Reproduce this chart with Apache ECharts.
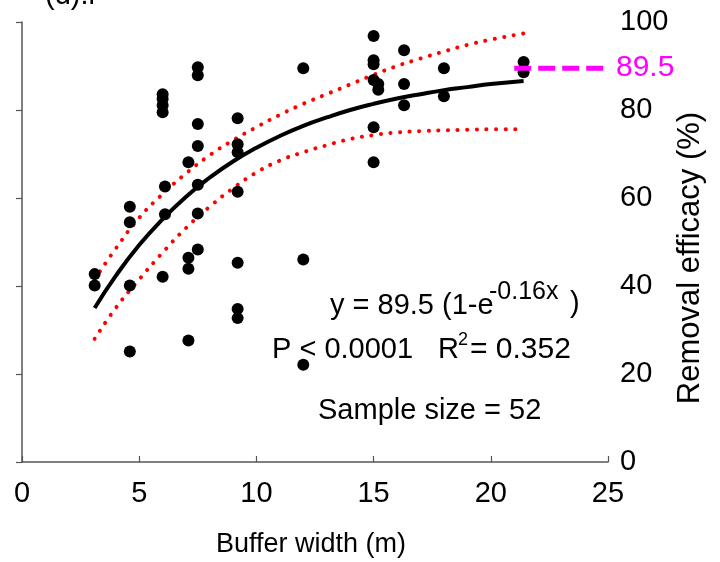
<!DOCTYPE html>
<html><head><meta charset="utf-8">
<script src="https://cdn.jsdelivr.net/npm/echarts@6/dist/echarts.min.js"></script>
<style>html,body{margin:0;padding:0;background:#fff}#c{width:720px;height:562px}</style>
</head><body><div id="c"></div>
<script>
const FONT = '"Liberation Sans",Arial,sans-serif';

// observed data points: buffer width (m) and removal efficacy (%)
const ptX = [3.1, 3.1,
  4.6, 4.6, 4.6, 4.6,
  6.0, 6.0, 6.0, 6.0, 6.0, 6.1, 6.1,
  7.1, 7.1, 7.1, 7.1,
  7.5, 7.5, 7.5, 7.5, 7.5, 7.5, 7.5,
  9.2, 9.2, 9.2, 9.2, 9.2, 9.2, 9.2,
  12.0, 12.0, 12.0,
  15.0, 15.0, 15.0, 15.0, 15.2, 15.2, 15.0, 15.0,
  16.3, 16.3, 16.3,
  18.0, 18.0,
  21.4, 21.4];
const ptY = [42.7, 40.1,
  58.0, 54.5, 40.1, 25.1,
  83.6, 82.5, 81.1, 79.5, 42.1, 62.6, 56.3,
  68.1, 46.4, 43.9, 27.6,
  89.7, 87.9, 76.8, 71.8, 63.0, 56.5, 48.3,
  78.1, 72.2, 70.4, 61.4, 45.3, 34.8, 32.7,
  89.5, 46.0, 22.1,
  96.8, 91.3, 90.4, 86.8, 85.9, 84.6, 76.1, 68.1,
  93.6, 85.9, 81.1,
  89.5, 83.1,
  90.9, 88.6];

// fitted curve values
const fitX = [3.1, 4, 5, 6, 7, 8, 9, 10, 11, 12, 13, 14, 15, 16, 17, 18, 19, 20, 21.4];
const fitY = [35.0, 42.3, 49.3, 55.2, 60.3, 64.6, 68.3, 71.4, 74.1, 76.4, 78.3, 80.0, 81.4, 82.6, 83.6, 84.5, 85.2, 85.9, 86.6];

// upper and lower confidence bands (red dotted)
const upX = [3.1, 4, 5, 6, 7, 8, 9, 10, 11, 12, 13, 14, 15, 16, 17, 18, 19, 20, 21.4];
const upY = [41.5, 48.5, 55.5, 60.9, 65.6, 69.7, 73.1, 76.1, 78.9, 81.4, 83.6, 85.8, 88.0, 90.0, 91.7, 93.3, 94.8, 96.0, 97.4];
const loX = [3.1, 4, 5, 6, 7, 8, 9, 10, 11, 12, 13, 14, 15, 16, 17, 18, 19, 20, 21.4];
const loY = [28.0, 35.0, 41.5, 47.6, 53.2, 58.0, 62.2, 65.8, 68.5, 70.4, 72.0, 73.4, 74.3, 74.9, 75.2, 75.4, 75.5, 75.6, 75.6];

// asymptote marker
const refX = [21.0, 25];
const refY = [89.5, 89.5];
const refLabel = '89.5';

const xMin = 0, xMax = 25, xStep = 5;
const yMin = 0, yMax = 100, yStep = 20;

const zip = (a, b) => a.map((v, i) => [v, b[i]]);
const chart = echarts.init(document.getElementById('c'), null, {renderer: 'canvas'});
const axisCol = '#555';
const txt = (text, x, y, size, extra) => Object.assign({
  type: 'text', x: x, y: y, silent: true,
  style: Object.assign({text: text, font: size + 'px ' + FONT, fill: '#000', verticalAlign: 'middle', align: 'left'}, (extra && extra.style) || {})
}, (extra && extra.el) || {});

chart.setOption({
  animation: false,
  backgroundColor: '#fff',
  grid: {left: 22, right: 112, top: 22, bottom: 100},
  xAxis: {
    type: 'value', min: xMin, max: xMax, interval: xStep,
    axisLine: {show: true, lineStyle: {color: axisCol, width: 1.5}},
    axisTick: {show: true, inside: true, length: 6, lineStyle: {color: axisCol, width: 1.2}},
    axisLabel: {margin: 17, fontSize: 29, fontFamily: FONT, color: '#000'},
    splitLine: {show: false}
  },
  yAxis: {
    type: 'value', position: 'right', min: yMin, max: yMax, interval: yStep,
    axisLine: {show: true, lineStyle: {color: axisCol, width: 1.5}},
    axisTick: {show: true, inside: true, length: 6, lineStyle: {color: axisCol, width: 1.2}},
    axisLabel: {margin: 12, fontSize: 29, fontFamily: FONT, color: '#000'},
    splitLine: {show: false}
  },
  series: [
    {type: 'line', data: zip(upX, upY), smooth: true, symbol: 'none', z: 2,
     lineStyle: {color: '#ff0000', width: 4, type: [0.1, 9.5], cap: 'round'}},
    {type: 'line', data: zip(loX, loY), smooth: true, symbol: 'none', z: 2,
     lineStyle: {color: '#ff0000', width: 4, type: [0.1, 9.5], cap: 'round'}},
    {type: 'line', data: zip(fitX, fitY), smooth: true, symbol: 'none', z: 3,
     lineStyle: {color: '#000', width: 4}},
    {type: 'scatter', data: zip(ptX, ptY), symbol: 'circle', symbolSize: 12, z: 4,
     itemStyle: {color: '#000', opacity: 1}},
    {type: 'line', data: zip(refX, refY), symbol: 'none', z: 5,
     lineStyle: {color: '#ff00ff', width: 5, type: [17, 7]},
     endLabel: {show: true, formatter: () => refLabel, color: '#ff00ff', fontSize: 30, fontFamily: FONT, distance: 8}}
  ],
  graphic: [
    txt('(d).i', 45, -4, 29),
    txt('y = 89.5 (1-e', 330, 306, 29),
    txt('-0.16x', 489, 292, 25),
    txt(')', 570, 304, 29),
    txt('P < 0.0001', 272, 350, 29),
    txt('R', 438, 350, 29),
    txt('2', 458, 340, 18),
    txt('= 0.352', 470, 350, 30),
    txt('Sample size = 52', 318, 411, 29),
    txt('Buffer width (m)', 311, 545, 27, {style: {align: 'center'}}),
    txt('Removal efficacy (%)', 690, 258, 31, {style: {align: 'center'}, el: {rotation: Math.PI / 2}})
  ]
});
</script></body></html>
